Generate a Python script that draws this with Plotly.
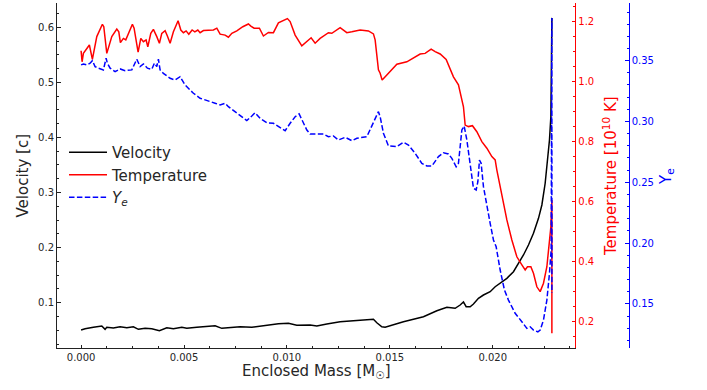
import plotly.graph_objects as go

# ---- data ----
mass_v = [0.0, 0.000194, 0.000598, 0.001006, 0.001166, 0.001249, 0.001569, 0.001895, 0.002221, 0.002541,
          0.002784, 0.003110, 0.003435, 0.003805, 0.004164, 0.004485, 0.004893, 0.005136, 0.005622, 0.006108,
          0.006511, 0.006837, 0.007240, 0.007726, 0.008294, 0.009023, 0.009587, 0.010073, 0.010481, 0.011127,
          0.011453, 0.011939, 0.012585, 0.013231, 0.013717, 0.014203, 0.014368, 0.014611, 0.014772, 0.015097,
          0.015661, 0.016633, 0.017284, 0.017770, 0.018173, 0.018416, 0.018576, 0.018707, 0.018902, 0.019062,
          0.019305, 0.019548, 0.019713, 0.019874, 0.020117, 0.020360, 0.020685, 0.021006, 0.021249, 0.021492,
          0.021735, 0.021978, 0.022221, 0.022386, 0.022546, 0.022658, 0.022755, 0.022823, 0.022852, 0.022872]
velocity = [0.0504, 0.0528, 0.0553, 0.0577, 0.0517, 0.0553, 0.0541, 0.0564, 0.0546, 0.0564,
            0.0517, 0.0535, 0.0528, 0.0492, 0.0546, 0.0528, 0.0553, 0.0535, 0.0553, 0.0564,
            0.0582, 0.0535, 0.0553, 0.0564, 0.0553, 0.0590, 0.0619, 0.0626, 0.0590, 0.0595,
            0.0577, 0.0613, 0.0655, 0.0673, 0.0686, 0.0699, 0.0637, 0.0564, 0.0553, 0.0595,
            0.0655, 0.0746, 0.0855, 0.0916, 0.0898, 0.0958, 0.1013, 0.0927, 0.0927, 0.0976,
            0.1080, 0.1140, 0.1171, 0.1200, 0.1290, 0.1352, 0.1443, 0.1563, 0.1715, 0.1866,
            0.2048, 0.2260, 0.2532, 0.2774, 0.3168, 0.3531, 0.3954, 0.4377, 0.5225, 0.6170]

mass_t = [0.0, 0.000049, 0.000112, 0.000277, 0.000403, 0.000549, 0.000763, 0.001035, 0.001103, 0.001249,
          0.001492, 0.001735, 0.001832, 0.001910, 0.002055, 0.002172, 0.002493, 0.002575, 0.002770, 0.002901,
          0.003027, 0.003158, 0.003241, 0.003387, 0.003513, 0.003678, 0.003805, 0.003921, 0.004082, 0.004193,
          0.004325, 0.004485, 0.004713, 0.004845, 0.004971, 0.005102, 0.005233, 0.005394, 0.005525, 0.005671,
          0.005782, 0.005943, 0.006429, 0.006594, 0.006754, 0.006997, 0.007157, 0.007323, 0.007566, 0.007857,
          0.008129, 0.008246, 0.008406, 0.008664, 0.008858, 0.009101, 0.009344, 0.009587, 0.009830, 0.010024,
          0.010156, 0.010399, 0.010724, 0.010967, 0.011176, 0.011370, 0.011613, 0.012016, 0.012182, 0.012585,
          0.012911, 0.013154, 0.013557, 0.013960, 0.014203, 0.014286, 0.014368, 0.014446, 0.014529, 0.014626,
          0.014854, 0.015340, 0.015826, 0.016147, 0.016472, 0.016715, 0.017007, 0.017201, 0.017444, 0.017736,
          0.017930, 0.018090, 0.018333, 0.018450, 0.018576, 0.018659, 0.018819, 0.019013, 0.019227, 0.019470,
          0.019713, 0.019956, 0.020117, 0.020199, 0.020360, 0.020520, 0.020685, 0.020928, 0.021171, 0.021414,
          0.021574, 0.021686, 0.021851, 0.021978, 0.022143, 0.022303, 0.022464, 0.022629, 0.022755, 0.022823,
          0.022872, 0.022872]
temperature = [1.101, 1.064, 1.092, 1.106, 1.120, 1.072, 1.148, 1.189, 1.181, 1.092,
               1.148, 1.173, 1.164, 1.128, 1.142, 1.137, 1.189, 1.176, 1.096, 1.142,
               1.131, 1.137, 1.114, 1.159, 1.172, 1.148, 1.126, 1.159, 1.168, 1.150,
               1.126, 1.164, 1.201, 1.170, 1.161, 1.167, 1.156, 1.170, 1.164, 1.170,
               1.161, 1.168, 1.170, 1.176, 1.156, 1.153, 1.146, 1.159, 1.167, 1.181,
               1.190, 1.183, 1.176, 1.176, 1.150, 1.162, 1.161, 1.194, 1.201, 1.208,
               1.198, 1.153, 1.117, 1.131, 1.144, 1.126, 1.142, 1.161, 1.159, 1.178,
               1.161, 1.164, 1.170, 1.167, 1.157, 1.137, 1.092, 1.037, 1.026, 1.003,
               1.020, 1.056, 1.064, 1.076, 1.090, 1.092, 1.106, 1.098, 1.090, 1.072,
               1.039, 1.014, 0.987, 0.948, 0.914, 0.853, 0.848, 0.851, 0.831, 0.798,
               0.776, 0.748, 0.737, 0.703, 0.648, 0.603, 0.537, 0.470, 0.414, 0.387,
               0.370, 0.381, 0.381, 0.359, 0.314, 0.298, 0.326, 0.381, 0.459, 0.514,
               0.603, 0.159]

mass_y = [0.0, 0.000112, 0.000277, 0.000437, 0.000549, 0.000680, 0.000841, 0.001084, 0.001215, 0.001278,
          0.001409, 0.001652, 0.001895, 0.002138, 0.002464, 0.002707, 0.002867, 0.003027, 0.003222, 0.003435,
          0.003562, 0.003678, 0.003756, 0.003839, 0.003999, 0.004325, 0.004568, 0.004810, 0.005053, 0.005214,
          0.005457, 0.005782, 0.006186, 0.006511, 0.006754, 0.006997, 0.007157, 0.007483, 0.007809, 0.008052,
          0.008294, 0.008455, 0.008698, 0.009023, 0.009344, 0.009670, 0.009913, 0.010156, 0.010399, 0.010593,
          0.010724, 0.010967, 0.011127, 0.011531, 0.011774, 0.012016, 0.012259, 0.012502, 0.012828, 0.013154,
          0.013397, 0.013882, 0.014203, 0.014446, 0.014529, 0.014689, 0.014932, 0.015340, 0.015661, 0.015904,
          0.016229, 0.016555, 0.016798, 0.017041, 0.017362, 0.017604, 0.017847, 0.018013, 0.018222, 0.018333,
          0.018499, 0.018610, 0.018742, 0.018902, 0.019062, 0.019193, 0.019276, 0.019354, 0.019436, 0.019548,
          0.019713, 0.019874, 0.020034, 0.020165, 0.020360, 0.020569, 0.020763, 0.021088, 0.021414, 0.021657,
          0.021817, 0.021978, 0.022192, 0.022303, 0.022464, 0.022629, 0.022755, 0.022837, 0.022872, 0.022872]
ye = [0.3465, 0.3473, 0.3465, 0.3479, 0.3500, 0.3451, 0.3438, 0.3424, 0.3520, 0.3479,
      0.3438, 0.3410, 0.3432, 0.3418, 0.3424, 0.3512, 0.3451, 0.3473, 0.3438, 0.3429,
      0.3479, 0.3451, 0.3512, 0.3424, 0.3396, 0.3355, 0.3341, 0.3368, 0.3300, 0.3273,
      0.3232, 0.3191, 0.3171, 0.3150, 0.3136, 0.3150, 0.3122, 0.3081, 0.3039, 0.3007,
      0.3045, 0.3072, 0.3026, 0.2990, 0.2985, 0.2952, 0.2924, 0.2985, 0.3039, 0.3062,
      0.3012, 0.2930, 0.2897, 0.2897, 0.2897, 0.2875, 0.2881, 0.2848, 0.2870, 0.2842,
      0.2862, 0.2875, 0.2985, 0.3081, 0.3039, 0.2903, 0.2799, 0.2793, 0.2829, 0.2807,
      0.2738, 0.2656, 0.2634, 0.2634, 0.2711, 0.2743, 0.2733, 0.2697, 0.2628, 0.2656,
      0.2930, 0.2963, 0.2848, 0.2628, 0.2451, 0.2437, 0.2505, 0.2683, 0.2656, 0.2464,
      0.2299, 0.2163, 0.2026, 0.1970, 0.1779, 0.1614, 0.1532, 0.1423, 0.1354, 0.1299,
      0.1312, 0.1285, 0.1271, 0.1285, 0.1368, 0.1532, 0.1752, 0.1943, 0.3851, 0.1590]

assert len(mass_v) == len(velocity)
assert len(mass_t) == len(temperature)
assert len(mass_y) == len(ye)

FONT = "DejaVu Sans"
TXT = "#262626"

fig = go.Figure()
fig.add_trace(go.Scatter(x=mass_v, y=velocity, mode="lines", name="Velocity",
                         line=dict(color="black", width=1.5), yaxis="y"))
fig.add_trace(go.Scatter(x=mass_t, y=temperature, mode="lines", name="Temperature",
                         line=dict(color="#ff0000", width=1.5), yaxis="y2"))
fig.add_trace(go.Scatter(x=mass_y, y=ye, mode="lines", name="<i>Y<sub>e</sub></i>",
                         line=dict(color="#0000ff", width=1.5, dash="5.5px,2.4px"), yaxis="y3"))

XD = [57 / 707, 575.3 / 707]
YD = [1 - 348 / 390, 1 - 3 / 390]

common = dict(showgrid=False, zeroline=False, showline=True, linewidth=1,
              ticks="inside", ticklen=3.5, tickwidth=1, automargin=False)

fig.update_layout(
    width=707, height=390,
    margin=dict(l=0, r=0, t=0, b=0),
    paper_bgcolor="white", plot_bgcolor="white",
    font=dict(family=FONT, color=TXT, size=10),
    showlegend=True,
    legend=dict(x=64 / 707, y=1 - 136 / 390, xanchor="left", yanchor="top",
                itemwidth=38,
                bgcolor="rgba(0,0,0,0)", font=dict(size=15, color=TXT, family=FONT)),
    xaxis=dict(domain=XD, range=[-0.00117, 0.02401], tick0=0, dtick=0.005, tickformat=".3f",
               linecolor="#222222", tickcolor="#222222",
               tickfont=dict(size=10, color=TXT),
               minor=dict(dtick=0.00125, ticks="inside", ticklen=2, tickcolor="#222222"),
               **common),
    yaxis=dict(domain=YD, range=[0.0178, 0.644], tick0=0, dtick=0.1, tickformat=".1f",
               linecolor="#222222", tickcolor="#222222",
               tickfont=dict(size=10, color=TXT),
               minor=dict(dtick=0.025, ticks="inside", ticklen=2, tickcolor="#222222"),
               **common),
    yaxis2=dict(domain=YD, range=[0.11, 1.26], overlaying="y", side="right", anchor="x",
                tick0=0, dtick=0.2, tickformat=".1f",
                linecolor="#ff0000", tickcolor="#ff0000",
                tickfont=dict(size=10, color="#ff0000"),
                minor=dict(dtick=0.05, ticks="inside", ticklen=2, tickcolor="#ff0000"),
                **common),
    yaxis3=dict(domain=YD, range=[0.1138, 0.3974], overlaying="y", side="right", anchor="free",
                position=628.7 / 707, tick0=0, dtick=0.05, tickformat=".2f",
                linecolor="#0000ff", tickcolor="#0000ff",
                tickfont=dict(size=10, color="#0000ff"),
                minor=dict(dtick=0.01, ticks="inside", ticklen=2, tickcolor="#0000ff"),
                **common),
    annotations=[
        dict(text="Velocity [c]", xref="paper", yref="paper", x=23 / 707, y=1 - 175.5 / 390,
             textangle=-90, showarrow=False, xanchor="center", yanchor="middle",
             font=dict(size=15, color=TXT, family=FONT)),
        dict(text="Enclosed Mass [M<sub>☉</sub>]", xref="paper", yref="paper", x=316 / 707,
             y=1 - 371.5 / 390, showarrow=False, xanchor="center", yanchor="middle",
             font=dict(size=15, color=TXT, family=FONT)),
        dict(text="Temperature [10<sup>10</sup> K]", xref="paper", yref="paper", x=610 / 707,
             y=1 - 176 / 390, textangle=-90, showarrow=False, xanchor="center", yanchor="middle",
             font=dict(size=15, color="#ff0000", family=FONT)),
        dict(text="Y<sub>e</sub>", xref="paper", yref="paper", x=667 / 707,
             y=1 - 177 / 390, textangle=-90, showarrow=False, xanchor="center", yanchor="middle",
             font=dict(size=15, color="#0000ff", family=FONT)),
    ],
)

fig.write_html("out.html")
